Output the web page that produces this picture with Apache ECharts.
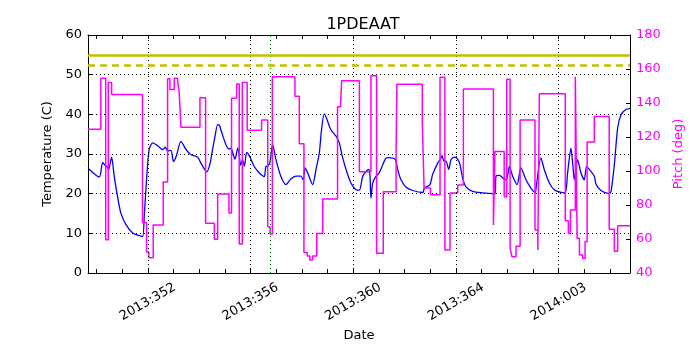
<!DOCTYPE html>
<html>
<head>
<meta charset="utf-8">
<script src="https://cdn.jsdelivr.net/npm/echarts@6/dist/echarts.min.js"></script>
<style>html, body { margin: 0; background: #fff; } #chart { width: 700px; height: 350px; }</style>
</head>
<body>
<div id="chart"></div>
<script>
// x values are days counted in 2013 (2014:003 -> 368)
var tempDays = [349.69, 350.11, 350.24, 350.34, 350.43, 350.47, 350.59, 350.69, 350.82, 350.95, 351.15, 351.41, 351.66, 351.80, 351.86, 351.95,
    352.05, 352.19, 352.38, 352.58, 352.68, 352.77, 352.90, 353.00, 353.11, 353.29, 353.48, 353.68, 353.94, 354.03, 354.13, 354.30, 354.42,
    354.52, 354.61, 354.72, 354.79, 354.86, 355.04, 355.17, 355.24, 355.33, 355.40, 355.50, 355.56, 355.61, 355.69, 355.76, 355.85, 355.95,
    356.14, 356.34, 356.47, 356.54, 356.60, 356.68, 356.76, 356.86, 356.99, 357.18, 357.38, 357.57, 357.77, 357.96, 358.05, 358.13, 358.24,
    358.42, 358.55, 358.68, 358.76, 358.87, 358.96, 359.13, 359.33, 359.46, 359.56, 359.72, 359.91, 360.11, 360.24, 360.37, 360.50, 360.60,
    360.65, 360.69, 360.76, 360.89, 361.01, 361.15, 361.28, 361.40, 361.64, 361.73, 361.86, 362.05, 362.32, 362.71, 362.77, 362.99, 363.09,
    363.29, 363.42, 363.46, 363.53, 363.61, 363.72, 363.81, 363.94, 364.07, 364.16, 364.26, 364.39, 364.65, 365.04, 365.43, 365.53, 365.56,
    365.69, 365.88, 365.95, 366.02, 366.08, 366.21, 366.38, 366.53, 366.73, 366.92, 367.09, 367.12, 367.31, 367.44, 367.64, 367.83, 368.09,
    368.26, 368.35, 368.48, 368.55, 368.61, 368.74, 368.87, 369.00, 369.09, 369.26, 369.39, 369.46, 369.65, 369.97, 370.04, 370.17, 370.30,
    370.43, 370.62, 370.78];
var tempValues = [26.3, 24.2, 27.9, 27.1, 26.7, 26.0, 29.2, 24.4, 19.3, 15.1, 12.2, 10.1, 9.4, 9.2, 14.3, 23.5,
    31.1, 32.8, 32.1, 31.1, 31.7, 30.8, 30.9, 28.1, 29.5, 33.2, 31.2, 29.8, 29.2, 28.2, 27.0, 25.5, 27.5,
    31.1, 34.2, 37.4, 37.2, 35.8, 32.4, 31.2, 31.5, 29.8, 28.7, 31.5, 29.8, 27.2, 28.5, 26.9, 30.4, 29.6,
    26.9, 25.2, 24.5, 24.3, 26.9, 27.0, 28.0, 32.4, 28.6, 24.4, 22.3, 23.7, 24.4, 24.4, 23.5, 26.5, 25.0,
    22.3, 26.1, 30.3, 35.8, 40.1, 39.0, 36.1, 34.5, 32.8, 29.8, 26.1, 22.7, 21.0, 20.9, 24.4, 25.6, 26.1,
    24.8, 18.9, 22.7, 24.4, 25.2, 27.3, 29.0, 29.1, 28.6, 26.1, 23.5, 21.7, 20.8, 20.3, 21.4, 22.3, 24.8,
    27.7, 29.0, 29.6, 28.2, 28.2, 26.1, 28.6, 29.2, 28.7, 27.3, 23.9, 21.7, 20.6, 20.2, 20.0, 20.0, 24.4,
    24.6, 23.7, 23.5, 24.8, 26.9, 24.4, 22.3, 26.5, 23.5, 21.4, 20.3, 21.4, 29.0, 26.1, 22.7, 21.0, 20.3,
    20.2, 25.2, 31.5, 27.5, 23.5, 28.6, 25.2, 23.5, 26.9, 25.6, 24.4, 22.3, 20.8, 20.0, 20.5, 27.3, 36.6,
    39.9, 41.2, 41.5];
// pitch holds each value until the next day in the list
var pitchDays = [349.67, 350.17, 350.36, 350.46, 350.59, 351.79, 351.95, 352.04, 352.21, 352.60, 352.77, 352.86, 353.03, 353.16, 353.22,
    353.29, 354.03, 354.25, 354.59, 354.72, 355.16, 355.26, 355.46, 355.56, 355.68, 355.87, 356.43, 356.67, 356.76, 356.85, 357.73,
    357.90, 358.08, 358.21, 358.31, 358.42, 358.58, 358.81, 359.39, 359.51, 359.55, 360.24, 360.69, 360.91, 361.17, 361.67, 361.70,
    362.69, 362.76, 363.01, 363.38, 363.57, 363.77, 364.07, 364.29, 365.46, 365.52, 365.88, 365.98, 366.11, 366.18, 366.34, 366.50,
    367.08, 367.19, 367.25, 368.26, 368.38, 368.46, 368.65, 368.72, 368.81, 368.94, 369.03, 369.11, 369.39, 369.97, 370.17, 370.30, 370.78];
var pitchValues = [124.5, 154.5, 59.5, 152, 145, 69.5, 52.3, 49, 68.2, 93.5, 154.3, 148, 154.5, 152.6, 146.6,
    125.8, 143.1, 69.2, 59.8, 86.5, 75.3, 142.8, 151.2, 57, 152, 124, 130, 67.2, 63, 155.5, 144,
    116, 52, 50, 47.6, 50, 63.3, 83.6, 137.8, 140.5, 153.1, 99.6, 156, 51.6, 87.8, 112, 151,
    128.2, 90, 86, 155.1, 53.5, 87, 91.8, 148.2, 68.2, 111.5, 84.9, 154, 54.5, 49.6, 55.7, 130,
    65.3, 53.5, 145.5, 70.8, 63.3, 77, 155.5, 60.4, 50.6, 48.6, 58.4, 117, 132, 65.7, 52.8, 67.8, 67.8];
var dateTicks = [352, 356, 360, 364, 368];
var dayTicks = [350, 351, 352, 353, 354, 355, 356, 357, 358, 359, 360, 361, 362, 363, 364, 365, 366, 367, 368, 369, 370];
var limitHigh = 55;
var limitLow = 52.5;
var markerDay = 356.77;

var font = 'DejaVu Sans';

function dateLabel(v) {
    if (v <= 365) return '2013:' + v;
    return '2014:' + String(v - 365).padStart(3, '0');
}

var tempData = tempDays.map(function (d, i) { return [d, tempValues[i]]; });
var pitchData = pitchDays.map(function (d, i) { return [d, pitchValues[i]]; });

var gridLines = dateTicks.map(function (d) {
    return { xAxis: d, lineStyle: { color: '#000', width: 1, type: [1, 3] } };
});
gridLines.push({ xAxis: markerDay, lineStyle: { color: '#008000', width: 1, type: [1, 3] } });
gridLines.push({ yAxis: limitHigh, lineStyle: { color: '#bfbf00', width: 2.5, type: 'solid' } });
gridLines.push({ yAxis: limitLow, lineStyle: { color: '#bfbf00', width: 2.5, type: [7, 5] } });

var xCommon = {
    type: 'value',
    min: 349.67,
    max: 370.78,
    axisLine: { show: true, onZero: false, lineStyle: { color: '#000', width: 1 } },
    axisTick: { show: true, inside: true, length: 4, customValues: dayTicks, lineStyle: { color: '#000' } },
    splitLine: { show: false }
};

var chart = echarts.init(document.getElementById('chart'));
chart.setOption({
    animation: false,
    textStyle: { fontFamily: font },
    title: {
        text: '1PDEAAT',
        left: 358,
        textAlign: 'center',
        top: 12,
        textStyle: { fontFamily: font, fontSize: 16, fontWeight: 'normal', color: '#000' }
    },
    grid: { left: 88, right: 70, top: 35, bottom: 77, containLabel: false },
    xAxis: [
        Object.assign({}, xCommon, {
            position: 'bottom',
            name: 'Date',
            nameLocation: 'middle',
            nameGap: 49,
            nameTextStyle: { fontFamily: font, fontSize: 13, color: '#000' },
            axisLabel: {
                customValues: dateTicks,
                formatter: dateLabel,
                rotate: 30,
                align: 'center',
                verticalAlign: 'middle',
                margin: 29,
                fontFamily: font,
                fontSize: 13,
                color: '#000'
            }
        }),
        Object.assign({}, xCommon, {
            position: 'top',
            axisLabel: { show: false }
        })
    ],
    yAxis: [
        {
            type: 'value',
            position: 'left',
            min: 0,
            max: 60,
            interval: 10,
            name: 'Temperature (C)',
            nameLocation: 'middle',
            nameGap: 26,
            nameTextStyle: { fontFamily: font, fontSize: 13, color: '#000' },
            axisLine: { show: true, lineStyle: { color: '#000', width: 1 } },
            axisTick: { show: true, inside: true, length: 4, lineStyle: { color: '#000' } },
            axisLabel: { fontFamily: font, fontSize: 13, color: '#000', margin: 6 },
            splitLine: { show: true, lineStyle: { color: '#000', width: 1, type: [1, 3] } }
        },
        {
            type: 'value',
            position: 'right',
            min: 40,
            max: 180,
            interval: 20,
            name: 'Pitch (deg)',
            nameLocation: 'middle',
            nameGap: 32,
            nameTextStyle: { fontFamily: font, fontSize: 13, color: '#ff00ff' },
            axisLine: { show: true, lineStyle: { color: '#000', width: 1 } },
            axisTick: { show: true, inside: true, length: 4, lineStyle: { color: '#000' } },
            axisLabel: { fontFamily: font, fontSize: 13, color: '#ff00ff', margin: 6 },
            splitLine: { show: false }
        }
    ],
    series: [
        {
            name: 'Temperature',
            type: 'line',
            xAxisIndex: 0,
            yAxisIndex: 0,
            data: tempData,
            showSymbol: false,
            smooth: 0.25,
            lineStyle: { color: '#0000ff', width: 1.3 },
            markLine: {
                silent: true,
                symbol: ['none', 'none'],
                label: { show: false },
                data: gridLines
            },
            z: 2
        },
        {
            name: 'Pitch',
            type: 'line',
            step: 'end',
            xAxisIndex: 0,
            yAxisIndex: 1,
            data: pitchData,
            showSymbol: false,
            lineStyle: { color: '#ff00ff', width: 1.5 },
            z: 3
        }
    ]
});
</script>
</body>
</html>
